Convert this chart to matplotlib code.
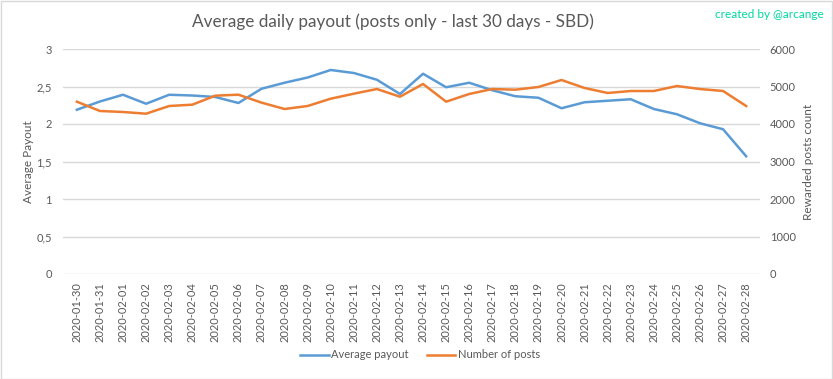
import matplotlib
matplotlib.use("Agg")
import matplotlib.pyplot as plt
from matplotlib.patches import Rectangle

# data
dates = ["2020-01-30", "2020-01-31"] + [f"2020-02-{d:02d}" for d in range(1, 29)]
avg_payout = [2.19, 2.30, 2.39, 2.27, 2.39, 2.38, 2.36, 2.28, 2.47, 2.55,
              2.62, 2.72, 2.68, 2.59, 2.40, 2.67, 2.49, 2.55, 2.45, 2.37,
              2.35, 2.21, 2.29, 2.31, 2.33, 2.20, 2.13, 2.01, 1.93, 1.57]
num_posts = [4595, 4347, 4320, 4275, 4480, 4515, 4755, 4782, 4570, 4400,
             4480, 4675, 4808, 4933, 4728, 5067, 4595, 4800, 4933, 4915,
             4987, 5173, 4960, 4827, 4880, 4880, 5013, 4933, 4880, 4480]
left_ticks = [0, 0.5, 1, 1.5, 2, 2.5, 3]
left_labels = ["0", "0,5", "1", "1,5", "2", "2,5", "3"]
right_ticks = [0, 1000, 2000, 3000, 4000, 5000, 6000]

BLUE = "#5b9bd5"
ORANGE = "#ed7d31"
GRAY = "#595959"
plt.rcParams['font.family'] = ['Lato', 'DejaVu Sans']

W, H = 833, 379
fig = plt.figure(figsize=(W / 100, H / 100), dpi=100)
fig.patches.append(Rectangle((0.5 / W, 0.5 / H), 1 - 1.5 / W, 1 - 1.5 / H,
                             transform=fig.transFigure, fill=False,
                             edgecolor="#d9d9d9", linewidth=1))

ax = fig.add_axes([63 / W, 1 - 274 / H, (760 - 63) / W, (274 - 49) / H])
ax2 = ax.twinx()

x = list(range(len(dates)))
l1, = ax.plot(x, avg_payout, color=BLUE, linewidth=1.8, label="Average payout")
l2, = ax2.plot(x, num_posts, color=ORANGE, linewidth=1.8, label="Number of posts")

ax.set_xlim(-0.6, len(dates) - 0.4)
ax.set_ylim(0, 3)
ax2.set_ylim(0, 6000)
ax.set_yticks(left_ticks)
ax.set_yticklabels(left_labels)
ax2.set_yticks(right_ticks)
ax.set_xticks(x)
ax.set_xticklabels(dates, rotation=90)

for a in (ax, ax2):
    for s in a.spines.values():
        s.set_visible(False)
    a.tick_params(length=0, colors=GRAY, labelsize=8)
ax.tick_params(axis="y", pad=8)
ax2.tick_params(axis="y", pad=7)
ax.tick_params(axis="x", pad=6)
ax.yaxis.grid(True, color="#d9d9d9", linewidth=1)
ax.set_axisbelow(True)

ax.set_ylabel("Average Payout", color=GRAY, fontsize=8.5, labelpad=2)
ax2.set_ylabel("Rewarded posts count", color=GRAY, fontsize=8.5, labelpad=5)

fig.text(393 / W, 1 - 22 / H, "Average daily payout (posts only - last 30 days - SBD)",
         ha="center", va="center", fontsize=12.3, color=GRAY)
fig.text(824 / W, 1 - 15 / H, "created by @arcange", ha="right", va="center",
         fontsize=8.5, color="#00d9a0")

fig.legend(handles=[l1, l2], loc="center", bbox_to_anchor=(420 / W, 1 - 355 / H),
           ncol=2, frameon=False, fontsize=8, labelcolor=GRAY, handlelength=2.6,
           columnspacing=1.6, handletextpad=0.2)

fig.savefig("out.png", dpi=100)
